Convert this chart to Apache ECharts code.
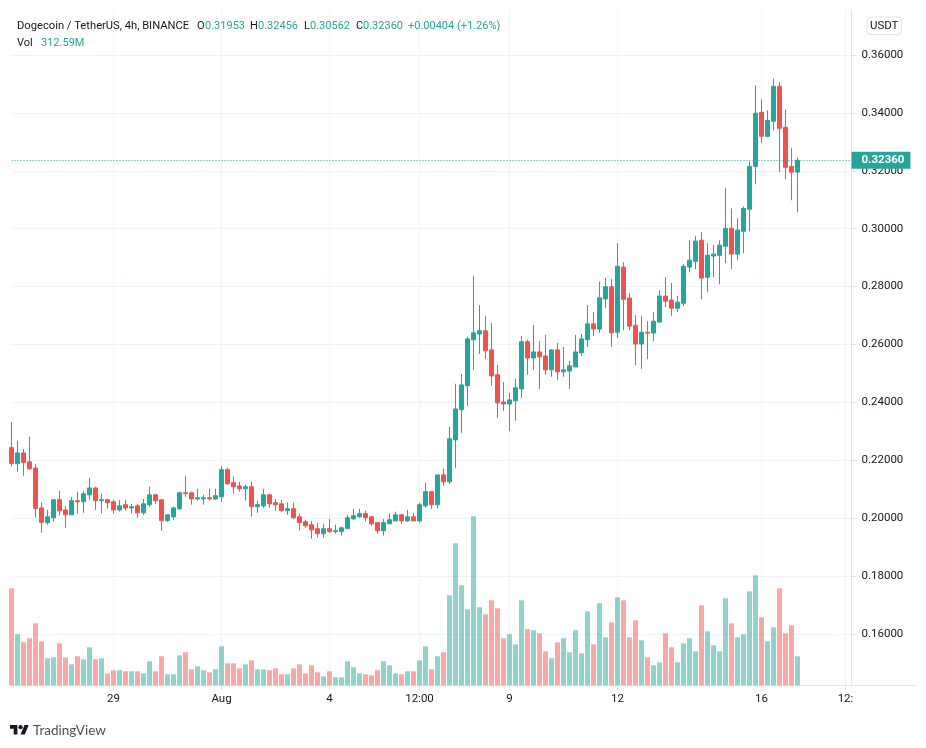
<!DOCTYPE html>
<html>
<head>
<meta charset="utf-8">
<style>html,body{margin:0;padding:0;background:#fff}#c{width:926px;height:748px}</style>
<script src="https://cdn.jsdelivr.net/npm/echarts@6/dist/echarts.min.js"></script>
</head>
<body>
<div id="c"></div>
<script>
const opens = [0.2243,0.2188,0.2225,0.2194,0.2173,0.2035,0.1984,0.2001,0.2063,0.2028,0.2011,0.2060,0.2056,0.2080,0.2104,0.2060,0.2063,0.2056,0.2028,0.2046,0.2035,0.2042,0.2018,0.2046,0.2080,0.2063,0.1991,0.2004,0.2032,0.2087,0.2087,0.2066,0.2066,0.2070,0.2066,0.2073,0.2167,0.2122,0.2111,0.2101,0.2108,0.2039,0.2042,0.2080,0.2053,0.2049,0.2025,0.2032,0.2004,0.1987,0.1977,0.1963,0.1946,0.1963,0.1953,0.1953,0.1963,0.1997,0.2004,0.2015,0.2004,0.1984,0.1956,0.1980,0.1990,0.2011,0.1990,0.2004,0.1990,0.2042,0.2091,0.2046,0.2149,0.2125,0.2270,0.2374,0.2457,0.2616,0.2636,0.2647,0.2581,0.2495,0.2401,0.2394,0.2405,0.2446,0.2609,0.2553,0.2574,0.2560,0.2512,0.2581,0.2505,0.2508,0.2522,0.2571,0.2616,0.2671,0.2653,0.2757,0.2799,0.2642,0.2867,0.2760,0.2666,0.2601,0.2642,0.2639,0.2677,0.2767,0.2753,0.2725,0.2742,0.2867,0.2887,0.2960,0.2832,0.2905,0.2908,0.2939,0.3001,0.2912,0.2991,0.3067,0.3215,0.3402,0.3319,0.3371,0.3492,0.3350,0.3215,0.31953];
const highs = [0.2332,0.2267,0.2239,0.2281,0.2187,0.2053,0.2028,0.2063,0.2094,0.2042,0.2073,0.2091,0.2094,0.2139,0.2108,0.2084,0.2066,0.2063,0.2063,0.2063,0.2049,0.2049,0.2066,0.2108,0.2084,0.2063,0.2011,0.2039,0.2091,0.2146,0.2091,0.2101,0.2080,0.2101,0.2101,0.2180,0.2174,0.2142,0.2125,0.2115,0.2125,0.2060,0.2101,0.2084,0.2066,0.2063,0.2053,0.2053,0.2015,0.1994,0.1990,0.1984,0.1980,0.1997,0.1977,0.1970,0.2011,0.2032,0.2032,0.2025,0.2008,0.1987,0.1997,0.2015,0.2022,0.2015,0.2028,0.2018,0.2053,0.2122,0.2094,0.2149,0.2170,0.2315,0.2464,0.2498,0.2626,0.2837,0.2736,0.2698,0.2674,0.2529,0.2470,0.2433,0.2481,0.2629,0.2616,0.2667,0.2612,0.2633,0.2584,0.2605,0.2591,0.2543,0.2633,0.2636,0.2736,0.2712,0.2816,0.2830,0.2826,0.2950,0.2884,0.2777,0.2701,0.2698,0.2680,0.2711,0.2787,0.2832,0.2812,0.2767,0.2877,0.2960,0.2974,0.2988,0.2950,0.2943,0.2960,0.3140,0.3070,0.3036,0.3077,0.3233,0.3495,0.3447,0.3409,0.3519,0.3506,0.3412,0.3278,0.32456];
const lows = [0.2178,0.2160,0.2146,0.2167,0.2001,0.1949,0.1977,0.1987,0.2008,0.1966,0.2011,0.2015,0.2018,0.2063,0.2028,0.2015,0.2032,0.2015,0.2022,0.2025,0.2015,0.2001,0.2011,0.2039,0.2049,0.1956,0.1987,0.1994,0.2028,0.2073,0.2046,0.2060,0.2046,0.2060,0.2063,0.2056,0.2115,0.2084,0.2091,0.2060,0.2004,0.2018,0.2035,0.2035,0.2025,0.2022,0.2011,0.1997,0.1956,0.1966,0.1928,0.1932,0.1932,0.1949,0.1946,0.1939,0.1963,0.1994,0.2001,0.1987,0.1973,0.1946,0.1939,0.1980,0.1990,0.1980,0.1987,0.1990,0.1984,0.2035,0.2032,0.2032,0.2111,0.2118,0.2173,0.2294,0.2388,0.2512,0.2567,0.2550,0.2457,0.2346,0.2370,0.2301,0.2336,0.2415,0.2495,0.2512,0.2446,0.2495,0.2488,0.2477,0.2488,0.2446,0.2522,0.2560,0.2591,0.2629,0.2640,0.2726,0.2591,0.2622,0.2649,0.2649,0.2528,0.2515,0.2549,0.2611,0.2677,0.2729,0.2698,0.2711,0.2732,0.2849,0.2860,0.2756,0.2780,0.2832,0.2808,0.2881,0.2860,0.2891,0.2915,0.2991,0.3153,0.3295,0.3316,0.3340,0.3195,0.3171,0.3098,0.30562];
const closes = [0.2188,0.2225,0.2192,0.2170,0.2033,0.1985,0.2004,0.2063,0.2025,0.2011,0.2060,0.2056,0.2084,0.2104,0.2060,0.2063,0.2053,0.2028,0.2042,0.2035,0.2039,0.2018,0.2049,0.2080,0.2060,0.1991,0.2011,0.2035,0.2087,0.2084,0.2066,0.2070,0.2070,0.2066,0.2077,0.2167,0.2118,0.2108,0.2101,0.2108,0.2039,0.2046,0.2080,0.2049,0.2046,0.2025,0.2032,0.2001,0.1984,0.1973,0.1959,0.1946,0.1963,0.1953,0.1956,0.1966,0.2001,0.2008,0.2015,0.2001,0.1980,0.1956,0.1984,0.1994,0.2011,0.1990,0.2004,0.1990,0.2046,0.2091,0.2046,0.2149,0.2125,0.2274,0.2377,0.2460,0.2619,0.2640,0.2647,0.2578,0.2491,0.2398,0.2394,0.2408,0.2450,0.2609,0.2553,0.2574,0.2557,0.2512,0.2581,0.2505,0.2512,0.2526,0.2574,0.2619,0.2671,0.2653,0.2761,0.2799,0.2640,0.2870,0.2756,0.2663,0.2601,0.2642,0.2639,0.2680,0.2767,0.2749,0.2725,0.2746,0.2870,0.2891,0.2957,0.2829,0.2908,0.2912,0.2943,0.3001,0.2912,0.2995,0.3070,0.3215,0.3399,0.3319,0.3374,0.3492,0.3347,0.3212,0.3195,0.32360];
const volumes = [1046,550,464,507,668,474,291,302,453,302,226,313,280,410,280,291,129,162,162,151,151,151,129,259,151,313,119,119,323,356,172,205,162,140,172,420,237,237,183,226,269,172,172,162,183,119,119,183,226,129,216,140,97,151,86,86,259,194,129,119,108,162,259,216,129,119,151,151,269,420,172,313,356,970,1531,1078,819,1822,841,765,916,830,507,550,442,916,604,593,561,366,291,464,507,356,593,345,798,442,884,517,679,949,916,517,701,485,302,216,248,561,410,248,453,507,366,862,582,431,366,938,668,517,550,1013,1186,733,474,625,1046,561,647,312.59];
const tickIndex = [17,35,53,68,83,101,125,139];
const tickLabels = ['29','Aug','4','12:00','9','12','16','12:'];
const slotCount = 141;
const priceMin = 0.14219, priceMax = 0.37531;
const volumeMax = 7272;
const legendChange = '+0.00404 (+1.26%)';

const GREEN = '#26a69a', RED = '#ef5350', TEXT = '#131722', GRID = '#f0f3fa', AXIS = '#e0e3eb';
const FONT = 'Roboto, sans-serif';
const categories = Array.from({length: slotCount}, (_, i) => {
  const k = tickIndex.indexOf(i);
  return k >= 0 ? tickLabels[k] : ' ';
});
const isTick = i => tickIndex.indexOf(i) >= 0;
const candles = opens.map((o, i) => [o, closes[i], lows[i], highs[i]]);
const volBars = volumes.map((v, i) => ({
  value: v,
  itemStyle: {color: closes[i] >= opens[i] ? 'rgba(38,166,154,0.5)' : 'rgba(239,83,80,0.5)'}
}));
const last = opens.length - 1;
const O = opens[last], H = highs[last], L = lows[last], C = closes[last];
const txt = (x, y, text, fill, extra) => Object.assign({
  type: 'text', x, y, silent: true, z: 100,
  style: {text, fill, font: '11px ' + FONT, textVerticalAlign: 'middle'}
}, extra || {});
const logoScale = 19 / 36;
const logoShape = (type, shape) => ({type, shape, x: 10, y: 723, scaleX: logoScale, scaleY: logoScale, silent: true, z: 100, style: {fill: TEXT}});

const chart = echarts.init(document.getElementById('c'), null, {renderer: 'canvas'});
chart.setOption({
  animation: false,
  backgroundColor: '#fff',
  grid: {left: 11.5, width: 840, top: 10.7, height: 674.6, containLabel: false},
  xAxis: {
    type: 'category', data: categories, boundaryGap: false,
    axisLine: {show: true, lineStyle: {color: AXIS, width: 1}},
    axisTick: {show: true, length: 5, interval: isTick, lineStyle: {color: AXIS}},
    splitLine: {show: true, interval: isTick, lineStyle: {color: GRID, width: 1}},
    axisLabel: {interval: isTick, color: TEXT, fontSize: 11.5, fontFamily: FONT, margin: 8, hideOverlap: false}
  },
  yAxis: [{
    type: 'value', position: 'right', min: priceMin, max: priceMax, scale: true,
    minInterval: 0.02, maxInterval: 0.02,
    axisLine: {show: true, lineStyle: {color: AXIS, width: 1}},
    axisTick: {show: true, length: 5, lineStyle: {color: AXIS}},
    splitLine: {show: true, showMinLine: false, showMaxLine: false, lineStyle: {color: GRID, width: 1}},
    axisLabel: {color: TEXT, fontSize: 11.5, fontFamily: FONT, margin: 10, padding: [2, 0, 0, 0], showMinLabel: false, showMaxLabel: false, formatter: v => v.toFixed(5)}
  }, {
    type: 'value', show: false, min: 0, max: volumeMax, splitLine: {show: false}
  }],
  series: [{
    type: 'bar', name: 'Vol', yAxisIndex: 1, data: volBars, barWidth: 5, clip: false, z: 2, silent: true
  }, {
    type: 'candlestick', name: 'DOGEUSDT', data: candles, barWidth: 5, clip: false, z: 3, silent: true,
    itemStyle: {color: GREEN, color0: RED, borderColor: GREEN, borderColor0: RED, borderWidth: 1},
    markLine: {
      symbol: 'none', silent: true, animation: false, z: 50, precision: 5,
      lineStyle: {color: GREEN, type: [1, 2], width: 1},
      label: {
        position: 'end', distance: 0, color: '#fff', backgroundColor: GREEN, fontSize: 11.5, fontWeight: 'bold',
        fontFamily: FONT, padding: [3, 6, 2, 10], formatter: () => C.toFixed(5)
      },
      data: [{yAxis: C}]
    }
  }],
  graphic: [
    txt(17, 26, 'Dogecoin / TetherUS, 4h, BINANCE', TEXT, {style: {text: 'Dogecoin / TetherUS, 4h, BINANCE', fill: TEXT, font: '11.2px ' + FONT, textVerticalAlign: 'middle'}}),
    txt(197, 26, 'O', TEXT), txt(205, 26, O.toFixed(5), GREEN),
    txt(250, 26, 'H', TEXT), txt(258, 26, H.toFixed(5), GREEN),
    txt(304, 26, 'L', TEXT), txt(310, 26, L.toFixed(5), GREEN),
    txt(356, 26, 'C', TEXT), txt(363, 26, C.toFixed(5), GREEN),
    txt(408, 26, legendChange, GREEN),
    txt(17, 43, 'Vol', TEXT), txt(41, 43, volumes[last].toFixed(2) + 'M', GREEN),
    {type: 'rect', shape: {x: 867, y: 17, width: 34.5, height: 17.5, r: 4}, silent: true, z: 100,
     style: {fill: '#fff', stroke: AXIS, lineWidth: 1}},
    txt(884.2, 26, 'USDT', TEXT, {style: {text: 'USDT', fill: TEXT, font: '11.5px ' + FONT, textAlign: 'center', textVerticalAlign: 'middle'}}),
    {type: 'line', shape: {x1: 852, y1: 685.5, x2: 915.5, y2: 685.5}, silent: true, z: 1, style: {stroke: AXIS, lineWidth: 1}},
    logoShape('polygon', {points: [[14, 22], [7, 22], [7, 11], [0, 11], [0, 4], [14, 4]]}),
    logoShape('polygon', {points: [[28, 22], [20, 22], [27.5, 4], [35.5, 4]]}),
    logoShape('circle', {cx: 20, cy: 8, r: 4}),
    txt(33, 731, 'TradingView', '#4a4f5c', {style: {text: 'TradingView', fill: '#4a4f5c', font: '13.5px Lato, ' + FONT, textVerticalAlign: 'middle'}})
  ]
});
</script>
</body>
</html>
